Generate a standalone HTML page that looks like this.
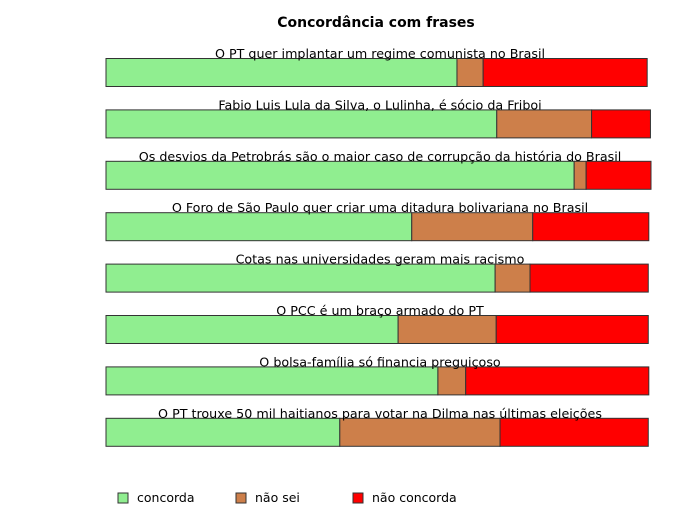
<!DOCTYPE html>
<html><head><meta charset="utf-8"><style>
body{margin:0;background:#fff;}
svg text{font-family:"DejaVu Sans","Liberation Sans",sans-serif;fill:#000;}
</style></head><body>
<svg width="680" height="520">
<rect width="680" height="520" fill="#fff"/>
<text x="376" y="27" text-anchor="middle" font-size="14" font-weight="bold">Concordância com frases</text>
<g id="bars"></g>
<g>
<rect x="118" y="493" width="10" height="10" fill="#90ee90" stroke="#333"/>
<text x="137" y="502" font-size="12.5">concorda</text>
<rect x="236" y="493" width="10" height="10" fill="#cd7f4a" stroke="#333"/>
<text x="255" y="502" font-size="12.5">não sei</text>
<rect x="353" y="493" width="10" height="10" fill="#ff0000" stroke="#333"/>
<text x="372" y="502" font-size="12.5">não concorda</text>
</g>
</svg>
<script>
const categories=["O PT quer implantar um regime comunista no Brasil","Fabio Luis Lula da Silva, o Lulinha, é sócio da Friboi","Os desvios da Petrobrás são o maior caso de corrupção da história do Brasil","O Foro de São Paulo quer criar uma ditadura bolivariana no Brasil","Cotas nas universidades geram mais racismo","O PCC é um braço armado do PT","O bolsa-família só financia preguiçoso","O PT trouxe 50 mil haitianos para votar na Dilma nas últimas eleições"];
const concorda=[64.4,71.7,85.9,56.1,71.4,53.6,60.9,42.9];
const naoSei=[4.8,17.4,2.2,22.2,6.4,18.0,5.1,29.4];
const naoConcorda=[30.1,10.8,11.9,21.3,21.7,27.9,33.6,27.2];
const x0=106,pxPer=5.45;
const xs=v=>x0+v*pxPer;
const ys=i=>58+i*51.4;
const g=document.getElementById('bars');
const NS='http://www.w3.org/2000/svg';
const series=[[concorda,'#90ee90','concorda'],[naoSei,'#cd7f4a','nao-sei'],[naoConcorda,'#ff0000','nao-concorda']];
categories.forEach((c,i)=>{
  const y=ys(i);
  let acc=0;
  series.forEach(([arr,col,nm])=>{
    const r=document.createElementNS(NS,'rect');
    r.setAttribute('x',xs(acc));r.setAttribute('y',y+0.5);
    r.setAttribute('width',arr[i]*pxPer);r.setAttribute('height',28);
    r.setAttribute('fill',col);r.setAttribute('stroke','#333');r.setAttribute('stroke-width','1');
    
    
    g.appendChild(r);
    acc+=arr[i];
  });
  const t=document.createElementNS(NS,'text');
  t.setAttribute('x',380);t.setAttribute('y',y);t.setAttribute('text-anchor','middle');t.setAttribute('font-size','12.7');
  t.textContent=c;
  
  
  g.appendChild(t);
});
</script>
</body></html>
